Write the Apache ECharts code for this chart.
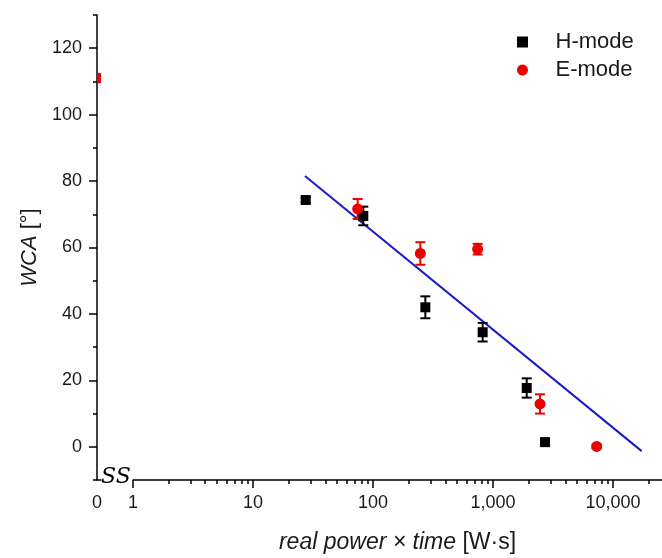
<!DOCTYPE html>
<html><head><meta charset="utf-8">
<script src="https://cdn.jsdelivr.net/npm/echarts@6/dist/echarts.min.js"></script>
<style>html,body{margin:0;padding:0;background:#fff}#c{width:662px;height:558px}</style>
</head><body><div id="c"></div>
<script>
// ---- data ----
const hX = [27.5, 83, 273, 820, 1910, 2712];
const hY = [74.3, 69.5, 42.0, 34.5, 17.7, 1.4];
const hErr = [0.8, 2.8, 3.3, 2.8, 2.9, 0.5];
const eX = [74.5, 248, 745, 2464, 7310];
const eY = [71.6, 58.2, 59.5, 12.9, 0.1];
const eErr = [3.0, 3.4, 1.6, 2.9, 0.5];
const eZeroX = [0];
const eZeroY = [111];
const eZeroErr = [1.2];
const fitX = [27.1, 17340];
const fitY = [81.5, -1.3];
const yMajor = [0, 20, 40, 60, 80, 100, 120];
const yMinor = [-10, 10, 30, 50, 70, 90, 110, 130];
const xMajor = [1, 10, 100, 1000, 10000];
const xMinor = [2,3,4,5,6,7,8,9, 20,30,40,50,60,70,80,90, 200,300,400,500,600,700,800,900,
                2000,3000,4000,5000,6000,7000,8000,9000, 20000];
const xZeroTicks = [0];

const FONT = '"Liberation Sans", Arial, sans-serif';
const AX = {color: '#000', width: 1.5};
const TXT = '#1a1a1a';
const RED = '#ee0000';

function errSeries(name, xs, ys, errs, color, xi, yi, clip, withMarker) {
  return {
    type: 'custom', name, xAxisIndex: xi, yAxisIndex: yi, clip: clip, silent: true, z: 3,
    data: xs.map((x, i) => [x, ys[i] - errs[i], ys[i] + errs[i], ys[i]]),
    renderItem(params, api) {
      const lo = api.coord([api.value(0), api.value(1)]);
      const hi = api.coord([api.value(0), api.value(2)]);
      const c = api.coord([api.value(0), api.value(3)]);
      const w = 5;
      const style = {stroke: color, lineWidth: 2};
      const ch = [
        {type: 'line', shape: {x1: lo[0], y1: lo[1], x2: hi[0], y2: hi[1]}, style},
        {type: 'line', shape: {x1: lo[0] - w, y1: lo[1], x2: lo[0] + w, y2: lo[1]}, style},
        {type: 'line', shape: {x1: hi[0] - w, y1: hi[1], x2: hi[0] + w, y2: hi[1]}, style}
      ];
      if (withMarker) ch.push({type: 'circle', shape: {cx: c[0], cy: c[1], r: 5.5}, style: {fill: color}});
      return {type: 'group', children: ch};
    }
  };
}

const chart = echarts.init(document.getElementById('c'), null, {renderer: 'canvas'});
chart.setOption({
  animation: false,
  backgroundColor: '#fff',
  textStyle: {fontFamily: FONT},
  grid: [
    {left: 97, width: 4, top: 15, bottom: 78, containLabel: false, outerBoundsMode: 'none'},
    {left: 133, right: 0, top: 15, bottom: 78, containLabel: false, outerBoundsMode: 'none'}
  ],
  xAxis: [
    {gridIndex: 0, type: 'value', min: 0, max: 1, position: 'bottom',
     axisLine: {show: true, onZero: false, lineStyle: AX}, axisTick: {show: false},
     axisLabel: {customValues: xZeroTicks, fontSize: 18, color: TXT, margin: 14, fontFamily: FONT},
     splitLine: {show: false}},
    {gridIndex: 1, type: 'log', logBase: 10, min: 1, max: 25600, position: 'bottom',
     axisLine: {show: true, onZero: false, lineStyle: AX},
     axisTick: {show: true, customValues: xMajor, length: 8, lineStyle: AX},
     axisLabel: {customValues: xMajor, fontSize: 18, color: TXT, margin: 14, fontFamily: FONT,
                 formatter: v => Number(v).toLocaleString('en-US')},
     splitLine: {show: false},
     name: '{i|real power × time} [W·s]', nameLocation: 'middle', nameGap: 51,
     nameTextStyle: {fontSize: 23, color: TXT, fontFamily: FONT,
                     rich: {i: {fontSize: 23, fontStyle: 'italic', color: TXT, fontFamily: FONT}}}},
    {gridIndex: 1, type: 'log', logBase: 10, min: 1, max: 25600, position: 'bottom', offset: 0,
     axisLine: {show: false, onZero: false},
     axisTick: {show: true, customValues: xMinor, length: 4, lineStyle: AX},
     axisLabel: {show: false}, splitLine: {show: false}}
  ],
  yAxis: [
    {gridIndex: 0, type: 'value', min: -10, max: 130, position: 'left',
     axisLine: {show: true, onZero: false, lineStyle: AX},
     axisTick: {show: true, customValues: yMajor, length: 8, lineStyle: AX},
     axisLabel: {customValues: yMajor, fontSize: 18, color: TXT, margin: 15, fontFamily: FONT},
     splitLine: {show: false},
     name: '{i|WCA} [°]', nameLocation: 'middle', nameGap: 56, nameRotate: 90,
     nameTextStyle: {fontSize: 22, color: TXT, fontFamily: FONT,
                     rich: {i: {fontSize: 22, fontStyle: 'italic', color: TXT, fontFamily: FONT}}}},
    {gridIndex: 0, type: 'value', min: -10, max: 130, position: 'left', offset: 0,
     axisLine: {show: false, onZero: false},
     axisTick: {show: true, customValues: yMinor, length: 4, lineStyle: AX},
     axisLabel: {show: false}, splitLine: {show: false}},
    {gridIndex: 1, type: 'value', min: -10, max: 130, show: false}
  ],
  legend: {
    orient: 'vertical', left: 512, top: 26, itemWidth: 56, itemHeight: 11, itemGap: 6,
    symbolKeepAspect: true,
    data: [{name: 'H-mode', icon: 'path://M0 0H10V10H0Z'}, {name: 'E-mode', icon: 'circle'}],
    textStyle: {fontSize: 22, color: TXT, fontFamily: FONT}
  },
  graphic: [
    {type: 'text', left: 101, top: 466, z: 10,
     style: {text: 'SS', font: 'italic 22px "DejaVu Serif"', fill: '#000'}}
  ],
  series: [
    {type: 'line', name: 'fit', xAxisIndex: 1, yAxisIndex: 2, showSymbol: false, symbol: 'none',
     data: fitX.map((x, i) => [x, fitY[i]]), lineStyle: {color: '#1a1acc', width: 2}, z: 2, silent: true},
    errSeries('H-err', hX, hY, hErr, '#000', 1, 2, false, false),
    errSeries('E-err', eX, eY, eErr, RED, 1, 2, false, false),
    {type: 'scatter', name: 'H-mode', xAxisIndex: 1, yAxisIndex: 2, symbol: 'rect', symbolSize: 10,
     itemStyle: {color: '#000', opacity: 1}, data: hX.map((x, i) => [x, hY[i]]), z: 4},
    {type: 'scatter', name: 'E-mode', xAxisIndex: 1, yAxisIndex: 2, symbol: 'circle', symbolSize: 11,
     itemStyle: {color: RED, opacity: 1}, data: eX.map((x, i) => [x, eY[i]]), z: 4},
    errSeries('E-zero', eZeroX, eZeroY, eZeroErr, RED, 0, 0, true, true)
  ]
});
</script>
</body></html>
